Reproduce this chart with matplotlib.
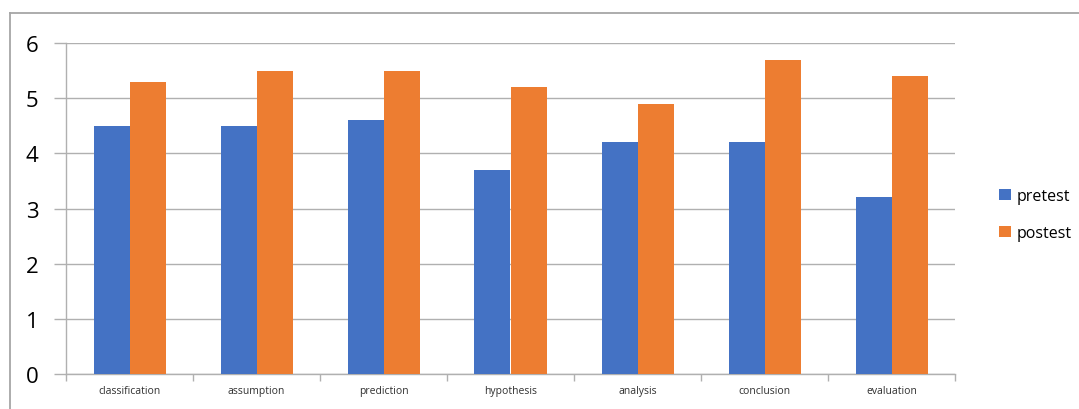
import numpy as np
import matplotlib.pyplot as plt
from matplotlib.lines import Line2D

# scores per skill
skills = ['classification', 'assumption', 'prediction', 'hypothesis',
          'analysis', 'conclusion', 'evaluation']
pretest = [4.5, 4.5, 4.6, 3.7, 4.2, 4.2, 3.2]
postest = [5.3, 5.5, 5.5, 5.2, 4.9, 5.7, 5.4]
yticks = [0, 1, 2, 3, 4, 5, 6]

blue = '#4472C4'
orange = '#ED7D31'
grid_c = '#B0B0B0'

W, H = 1079, 410
fig = plt.figure(figsize=(W / 100, H / 100), dpi=100)
ax = fig.add_axes([66 / W, 1 - 375 / H, (955 - 66) / W, (375 - 44) / H])

x = np.arange(len(skills))
bw = 36 / 127
ax.bar(x - bw / 2, pretest, bw, color=blue, label='pretest', zorder=3)
ax.bar(x + bw / 2, postest, bw, color=orange, label='postest', zorder=3)

ax.set_xlim(-0.5, len(skills) - 0.5)
ax.set_ylim(0, 6)
ax.set_yticks(yticks)
ax.set_yticklabels([str(v) for v in yticks], fontsize=16, fontfamily='Open Sans')
ax.tick_params(axis='y', length=9, color=grid_c, width=1, pad=11)
ax.yaxis.grid(True, color=grid_c, linewidth=1, zorder=0)

# category boundaries as ticks, labels centred between them
ax.set_xticks(np.arange(len(skills) + 1) - 0.5)
ax.set_xticklabels([])
ax.set_xticks(x, minor=True)
ax.set_xticklabels(skills, minor=True, fontsize=7.5, fontfamily='Open Sans', color='#303030')
ax.tick_params(axis='x', which='major', length=5, color=grid_c, width=1)
ax.tick_params(axis='x', which='minor', length=0, pad=8)

for s in ['top', 'right']:
    ax.spines[s].set_visible(False)
for s in ['left', 'bottom']:
    ax.spines[s].set_color(grid_c)
    ax.spines[s].set_linewidth(1)

leg = fig.legend(loc='upper left', bbox_to_anchor=(985 / W, 1 - 175 / H),
                 frameon=False, handlelength=0.7, handleheight=0.7,
                 handletextpad=0.4, labelspacing=1.3,
                 prop={'family': 'Open Sans', 'size': 11.5})

# outer frame (top and left edges)
fig.add_artist(Line2D([10 / W, 1], [1 - 14 / H, 1 - 14 / H], color='#A6A6A6', lw=1.3))
fig.add_artist(Line2D([10 / W, 10 / W], [0, 1 - 14 / H], color='#A6A6A6', lw=1.3))

fig.savefig('out.png', dpi=100)
